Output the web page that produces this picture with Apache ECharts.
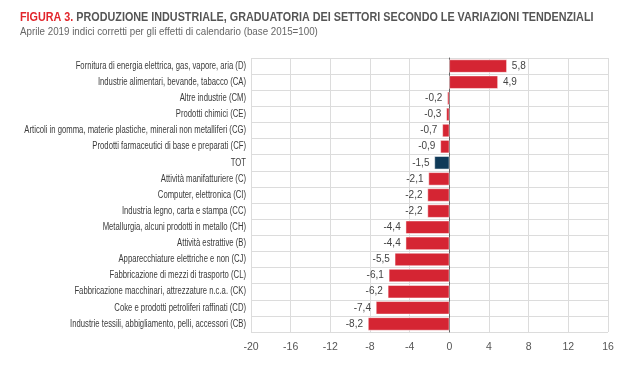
<!DOCTYPE html>
<html><head><meta charset="utf-8">
<script src="https://cdn.jsdelivr.net/npm/echarts@6/dist/echarts.min.js"></script>
<style>html,body{margin:0;padding:0;background:#fff}#c{width:630px;height:365px}</style>
</head><body><div id="c"></div>
<script>
const categories = [
  "Fornitura di energia elettrica, gas, vapore, aria (D)",
  "Industrie alimentari, bevande, tabacco (CA)",
  "Altre industrie (CM)",
  "Prodotti chimici (CE)",
  "Articoli in gomma, materie plastiche, minerali non metalliferi (CG)",
  "Prodotti farmaceutici di base e preparati (CF)",
  "TOT",
  "Attività manifatturiere (C)",
  "Computer, elettronica (CI)",
  "Industria legno, carta e stampa (CC)",
  "Metallurgia, alcuni prodotti in metallo (CH)",
  "Attività estrattive (B)",
  "Apparecchiature elettriche e non (CJ)",
  "Fabbricazione di mezzi di trasporto (CL)",
  "Fabbricazione macchinari, attrezzature n.c.a. (CK)",
  "Coke e prodotti petroliferi raffinati (CD)",
  "Industrie tessili, abbigliamento, pelli, accessori (CB)"
];
const values = [5.8, 4.9, -0.2, -0.3, -0.7, -0.9, -1.5, -2.1, -2.2, -2.2, -4.4, -4.4, -5.5, -6.1, -6.2, -7.4, -8.2];
const highlight = "TOT";
const titleRed = "FIGURA 3.";
const titleRest = " PRODUZIONE INDUSTRIALE, GRADUATORIA DEI SETTORI SECONDO LE VARIAZIONI TENDENZIALI";
const subtitle = "Aprile 2019 indici corretti per gli effetti di calendario (base 2015=100)";

const FN = '"Liberation Sans", Arial, sans-serif';
const chart = echarts.init(document.getElementById('c'));
chart.setOption({
  animation: false,
  textStyle: {fontFamily: FN},
  grid: {left: 251, right: 22, top: 58, bottom: 33, outerBoundsMode: 'none', containLabel: false},
  xAxis: {
    type: 'value', min: -20, max: 16, interval: 4,
    axisLine: {show: false}, axisTick: {show: false},
    axisLabel: {color: '#555', fontSize: 10.5, fontFamily: FN, margin: 10},
    splitLine: {show: true, lineStyle: {color: '#dcdcdc', width: 1}}
  },
  yAxis: {
    type: 'category', data: categories, inverse: true,
    axisLine: {show: true, onZero: true, lineStyle: {color: '#666', width: 1}},
    axisTick: {show: false},
    axisLabel: {show: false},
    splitLine: {show: true, lineStyle: {color: '#dcdcdc', width: 1}}
  },
  series: [{
    type: 'bar',
    data: values.map((v, i) => ({
      value: v,
      itemStyle: {color: categories[i] === highlight ? '#0f3a58' : '#d52533'},
      label: {position: v >= 0 ? 'right' : 'left'}
    })),
    barCategoryGap: '19%',
    itemStyle: {borderColor: '#ffffff', borderWidth: 0.5},
    label: {
      show: true,
      color: '#444', fontSize: 10, fontFamily: FN,
      distance: 5,
      formatter: p => String(p.value).replace('.', ',')
    }
  }]
});

const g = [
  {
    type: 'text', x: 20, y: 11, scaleX: 0.83,
    style: {
      text: '{r|' + titleRed + '}{g|' + titleRest + '}',
      rich: {
        r: {fill: '#e2252b', fontWeight: 'bold', fontSize: 13, fontFamily: FN},
        g: {fill: '#555555', fontWeight: 'bold', fontSize: 13, fontFamily: FN}
      }
    }
  },
  {
    type: 'text', x: 20, y: 26, scaleX: 0.85,
    style: {text: subtitle, fill: '#666', fontSize: 11.5, fontFamily: FN}
  }
];
categories.forEach(c => {
  const y = chart.convertToPixel({yAxisIndex: 0}, c);
  g.push({
    type: 'text', x: 246, y: y, scaleX: 0.77,
    style: {text: c, fill: '#3a3a3a', fontSize: 10, fontFamily: FN, align: 'right', verticalAlign: 'middle'}
  });
});
chart.setOption({graphic: g});
</script>
</body></html>
